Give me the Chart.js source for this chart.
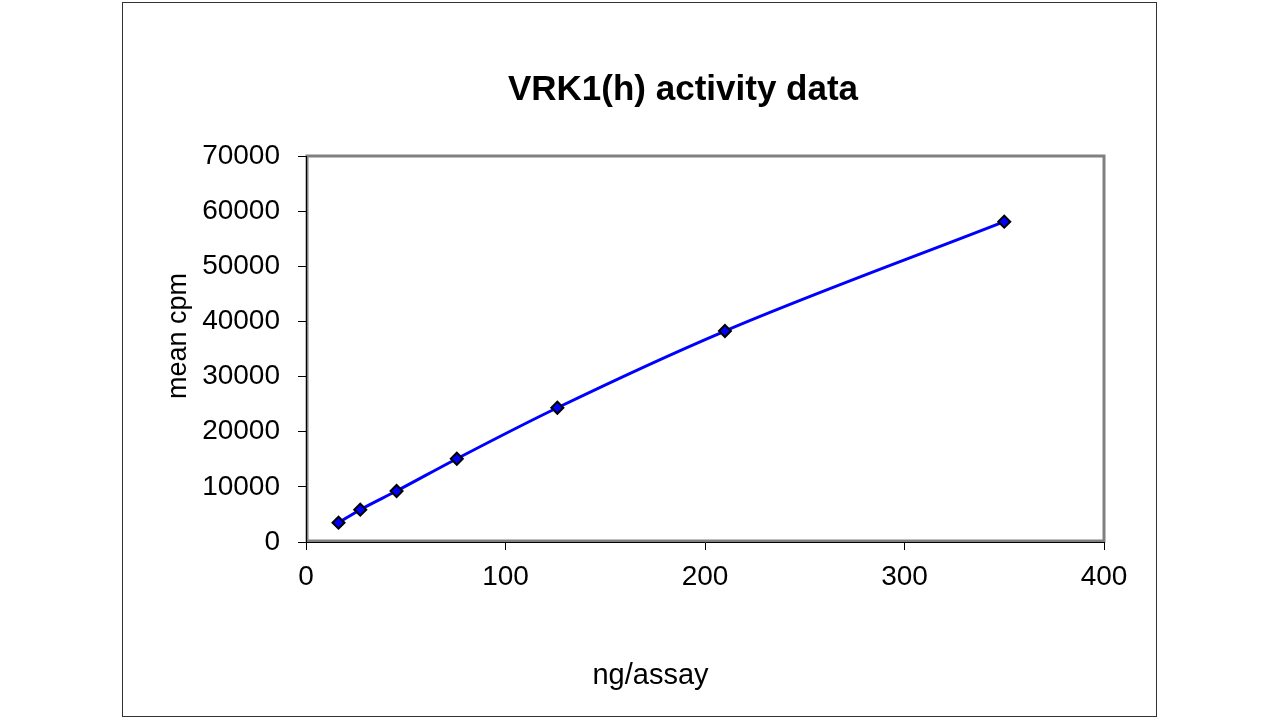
<!DOCTYPE html>
<html>
<head>
<meta charset="utf-8">
<script src="https://cdn.jsdelivr.net/npm/chart.js@4/dist/chart.umd.min.js"></script>
<style>
    html, body { margin: 0; padding: 0; background: #fff; }
    .wrap { position: relative; width: 1280px; height: 720px; font-family: "Liberation Sans", Arial, sans-serif; color: #000; }
    .frame {
        position: absolute; left: 122px; top: 2px; width: 1035px; height: 715px;
        border: 1px solid #333; box-sizing: border-box; pointer-events: none;
    }
    .chart-title {
        position: absolute; left: 0; top: 68px; width: 1366px; line-height: 40px;
        text-align: center; font-weight: bold; font-size: 35px;
    }
    .x-title {
        position: absolute; left: 550px; top: 660px; width: 201px; line-height: 29px;
        text-align: center; font-size: 29px;
    }
    .y-title {
        position: absolute; left: 77px; top: 321px; width: 200px; line-height: 30px;
        text-align: center; font-size: 27px; transform: rotate(-90deg);
    }
    canvas { position: absolute; left: 0; top: 0; }
</style>
</head>
<body>
<div class="wrap">
    <div class="frame"></div>
    <canvas id="activityChart" width="1280" height="720"></canvas>
    <div class="chart-title">VRK1(h) activity data</div>
    <div class="y-title">mean cpm</div>
    <div class="x-title">ng/assay</div>
</div>
<script>
// ng of enzyme per assay and the measured mean cpm
const ngPerAssay = [16.3, 27.2, 45.4, 75.6, 126, 210, 350];
const meanCpm = [3500, 5860, 9250, 15100, 24350, 38260, 58090];
const xTicks = [0, 100, 200, 300, 400];
const yTicks = [0, 10000, 20000, 30000, 40000, 50000, 60000, 70000];

const font = { family: '"Liberation Sans", Arial, sans-serif', size: 28 };

// grey plot frame, drawn before the axes so the black axis lines sit on top
const plotFrame = {
    id: 'plotFrame',
    beforeDraw(chart) {
        const a = chart.chartArea;
        const ctx = chart.ctx;
        ctx.save();
        ctx.strokeStyle = '#808080';
        ctx.lineWidth = 3;
        ctx.strokeRect(a.left + 1, a.top, a.right - a.left - 1, a.bottom - a.top - 1);
        ctx.restore();
    }
};

new Chart(document.getElementById('activityChart').getContext('2d'), {
    type: 'line',
    data: {
        datasets: [{
            data: ngPerAssay.map((x, i) => ({ x: x, y: meanCpm[i] })),
            borderColor: '#0000FF',
            borderWidth: 3,
            cubicInterpolationMode: 'monotone',
            pointStyle: 'rectRot',
            pointRadius: 6,
            pointBackgroundColor: '#0000FF',
            pointBorderColor: '#000',
            pointBorderWidth: 2,
            fill: false,
            clip: false
        }]
    },
    options: {
        responsive: false,
        animation: false,
        events: [],
        layout: { padding: { left: 160, top: 156, right: 176, bottom: 28 } },
        plugins: {
            legend: { display: false },
            tooltip: { enabled: false }
        },
        scales: {
            x: {
                type: 'linear',
                min: 0,
                max: 400,
                afterFit: (scale) => { scale.height = 150; },
                afterBuildTicks: (scale) => { scale.ticks = xTicks.map(v => ({ value: v })); },
                ticks: { color: '#000', font: font, padding: 10, maxRotation: 0, callback: (v) => String(v) },
                grid: { drawOnChartArea: false, drawTicks: true, tickLength: 8, color: '#000' },
                border: { display: true, color: '#000', width: 1 }
            },
            y: {
                type: 'linear',
                min: 0,
                max: 70000,
                afterFit: (scale) => { scale.width = 146; },
                afterBuildTicks: (scale) => { scale.ticks = yTicks.map(v => ({ value: v })); },
                ticks: { color: '#000', font: font, padding: 18, callback: (v) => String(v) },
                grid: { drawOnChartArea: false, drawTicks: true, tickLength: 8, color: '#000' },
                border: { display: true, color: '#000', width: 1 }
            }
        }
    },
    plugins: [plotFrame]
});
</script>
</body>
</html>
